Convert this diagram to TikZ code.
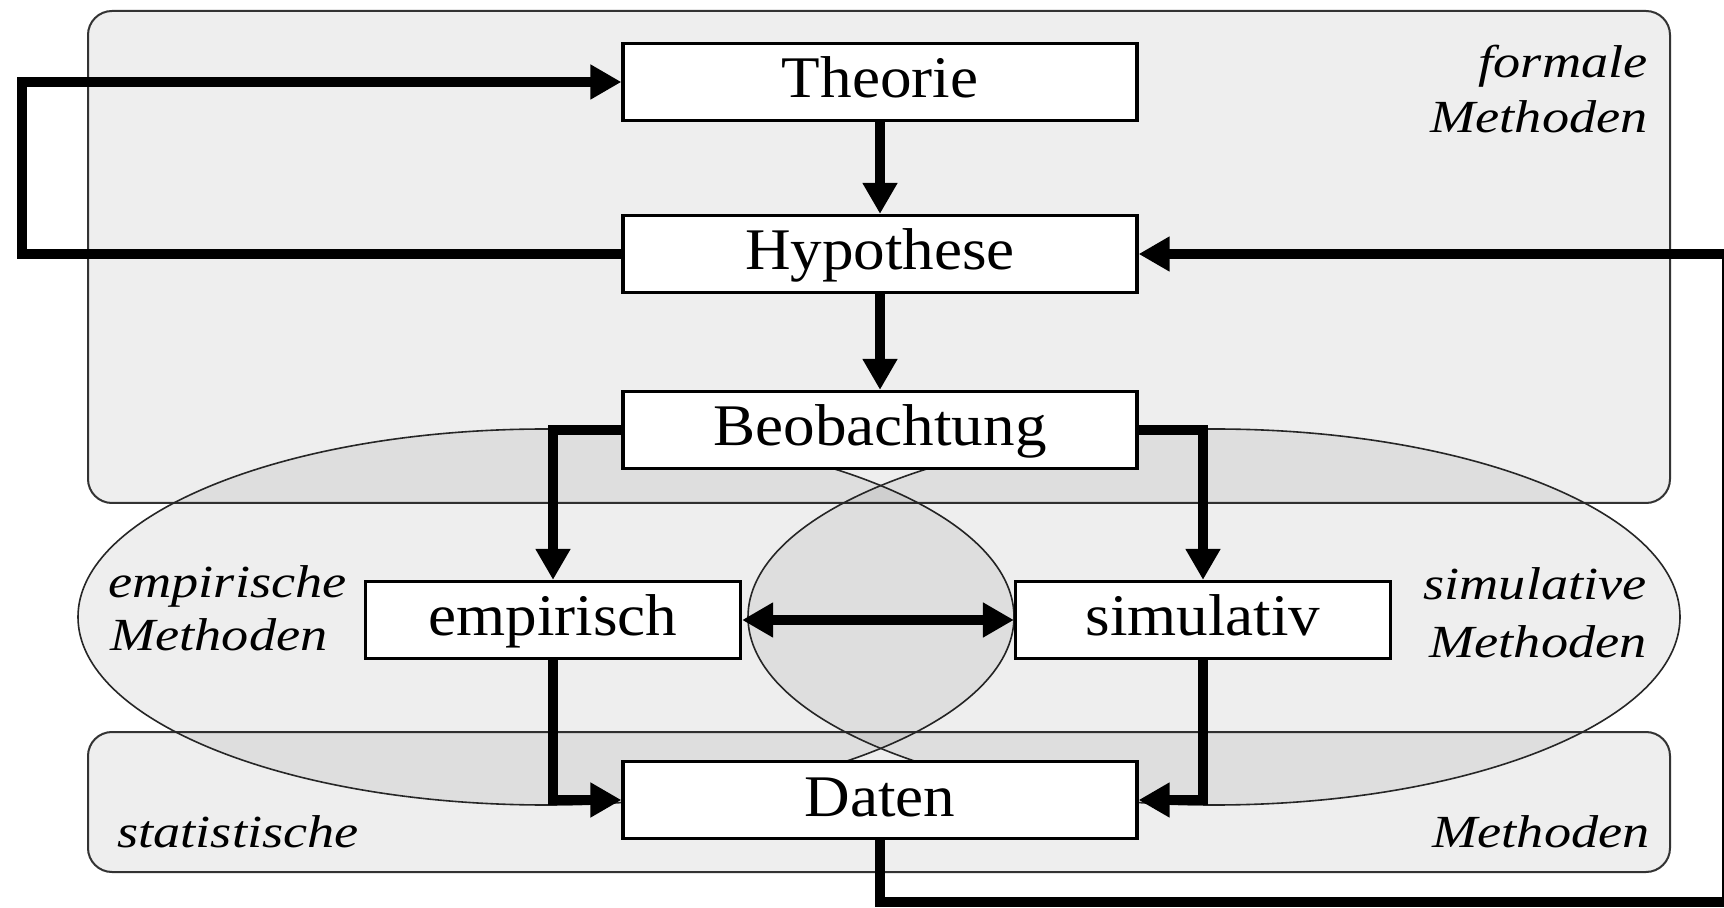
\documentclass[tikz,border=0pt]{standalone}
\usepackage{fontspec}
\setmainfont{Liberation Serif}[FakeStretch=1.07]
\newfontfamily\labfont{Liberation Serif}[FakeStretch=1.18]
\usetikzlibrary{arrows.meta}
\begin{document}
\begin{tikzpicture}[x=0.5pt,y=-0.5pt,
  layer/.style={fill=black,fill opacity=0.065},
  panel/.style={draw=black!80,line width=1pt,rounded corners=12pt},
  ell/.style={draw=black!85,line width=0.8pt},
  box/.style={draw,line width=1.6pt,fill=white,inner sep=0pt,minimum width=257pt,minimum height=38.5pt,text height=21pt,text depth=5pt,font=\fontsize{29.5pt}{35pt}\selectfont},
  sbox/.style={box,minimum width=187.5pt},
  lab/.style={font=\labfont\itshape\fontsize{23pt}{27.5pt}\selectfont,inner sep=0pt},
  arr/.style={line width=5pt,line join=miter,-{Triangle[length=15.5pt,width=16.5pt]}},
  darr/.style={line width=5pt,{Triangle[length=15.5pt,width=16.5pt]}-{Triangle[length=15.5pt,width=16.5pt]}}
]
\useasboundingbox (0,0) rectangle (1724,908);
\clip (0,0) rectangle (1724,908);
\fill[white] (0,0) rectangle (1724,908);

% shaded regions
\path[panel,layer] (88,11) rectangle (1670,503);
\path[panel,layer] (88,732) rectangle (1670,872);
\path[ell,layer] (546,617) ellipse [x radius=234pt, y radius=94pt];
\path[ell,layer] (1214,617) ellipse [x radius=233pt, y radius=94pt];

% labels
\node[lab,anchor=base east] (fm1) at (1648,78) {formale};
\node[lab,anchor=base east] (fm2) at (1648,133) {Methoden};
\node[lab,anchor=base west] (em1) at (108,597) {empirische};
\node[lab,anchor=base west] (em2) at (110,651) {Methoden};
\node[lab,anchor=base east] (sm1) at (1647,600) {simulative};
\node[lab,anchor=base east] (sm2) at (1647,657) {Methoden};
\node[lab,anchor=base west] (st1) at (117,847) {statistische};
\node[lab,anchor=base east] (st2) at (1650,847) {Methoden};

% boxes
\node[box] (theo) at (880,82) {Theorie};
\node[box] (hyp) at (880,254) {Hypothese};
\node[box] (beob) at (880,430) {Beobachtung};
\node[sbox] (emp) at (553,620) {empirisch};
\node[sbox] (sim) at (1203,620) {simulativ};
\node[box] (daten) at (880,800) {Daten};

% connectors
\draw[arr] (theo) -- (hyp);
\draw[arr] (hyp) -- (beob);
\draw[arr] (beob.west) -| (emp.north);
\draw[arr] (beob.east) -| (sim.north);
\draw[arr] (emp.south) |- (daten.west);
\draw[arr] (sim.south) |- (daten.east);
\draw[darr] (emp.east) -- (sim.west);
\coordinate (L) at (22,254);
\draw[arr] (hyp.west) -- (L) |- (theo.west);
\coordinate (R) at (1727,902);
\draw[arr] (daten.south) |- (R) |- (hyp.east);
\end{tikzpicture}
\end{document}
